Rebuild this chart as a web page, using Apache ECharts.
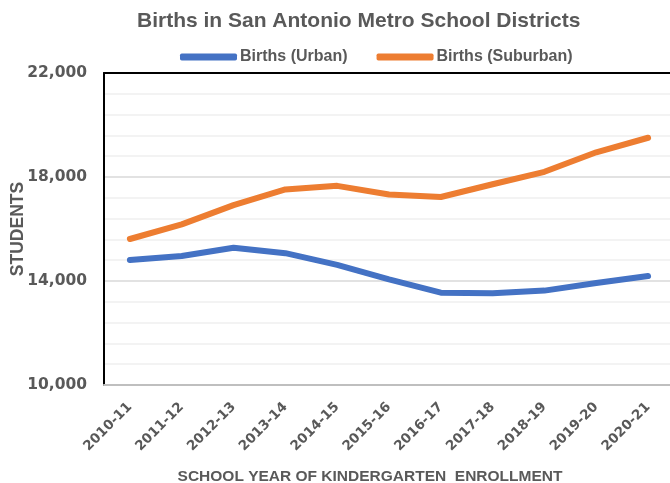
<!DOCTYPE html>
<html>
<head>
<meta charset="utf-8">
<script src="https://cdn.jsdelivr.net/npm/echarts@6/dist/echarts.min.js"></script>
<style>html,body{margin:0;padding:0;background:#fff}#c{width:670px;height:483px}</style>
</head>
<body>
<div id="c"></div>
<script>
const categories = ['2010-11','2011-12','2012-13','2013-14','2014-15','2015-16','2016-17','2017-18','2018-19','2019-20','2020-21'];
const urban = [14810, 14960, 15280, 15070, 14620, 14060, 13550, 13525, 13630, 13920, 14190];
const suburban = [15615, 16180, 16920, 17520, 17660, 17330, 17230, 17720, 18200, 18950, 19510];
const yTicks = [10000, 14000, 18000, 22000];

const SANS = '"Liberation Sans", Arial, sans-serif';
const DJ = '"DejaVu Sans", sans-serif';
const GREY = '#595959';
const chart = echarts.init(document.getElementById('c'), null, {renderer: 'canvas'});
chart.setOption({
  animation: false,
  title: {
    text: 'Births in San Antonio Metro School Districts',
    left: 132, top: 6,
    textStyle: {fontFamily: SANS, fontSize: 21, fontWeight: 'bold', color: GREY}
  },
  legend: {
    top: 44, left: 175,
    itemWidth: 57, itemHeight: 7, itemGap: 29,
    textStyle: {fontFamily: SANS, fontSize: 16, fontWeight: 'bold', color: GREY, padding: [0,0,0,-2]},
    data: [
      {name: 'Births (Urban)', icon: 'roundRect'},
      {name: 'Births (Suburban)', icon: 'roundRect'}
    ]
  },
  grid: {left: 104, top: 73, right: -4, bottom: 98, containLabel: false, outerBoundsMode: 'none'},
  xAxis: [{
    type: 'category',
    data: categories,
    boundaryGap: true,
    axisLine: {show: true, lineStyle: {color: '#bfbfbf', width: 2}},
    axisTick: {show: false},
    axisLabel: {rotate: 45, fontFamily: DJ, fontSize: 13.5, fontWeight: 'bold', color: GREY, margin: 20, interval: 0},
    name: 'SCHOOL YEAR OF KINDERGARTEN  ENROLLMENT',
    nameLocation: 'middle', nameGap: 84, nameMoveOverlap: false,
    nameTextStyle: {fontFamily: SANS, fontSize: 15.5, fontWeight: 'bold', color: GREY, padding: [0, 38, 0, 0]}
  }, {
    type: 'category', position: 'top', data: categories,
    axisLine: {show: true, lineStyle: {color: '#000', width: 2}},
    axisTick: {show: false}, axisLabel: {show: false}
  }],
  yAxis: {
    type: 'value',
    min: yTicks[0], max: yTicks[yTicks.length-1], interval: 4000,
    axisLine: {show: true, lineStyle: {color: '#000', width: 2}},
    axisTick: {show: false},
    axisLabel: {
      fontFamily: DJ, fontSize: 15.5, fontWeight: 'bold', color: GREY, margin: 17,
      formatter: v => v.toLocaleString('en-US')
    },
    splitLine: {show: true, lineStyle: {color: '#d9d9d9', width: 1.5}},
    minorTick: {show: false, splitNumber: 5},
    minorSplitLine: {show: true, lineStyle: {color: '#efefef', width: 1.5}},
    name: 'STUDENTS', nameLocation: 'middle', nameGap: 77, nameMoveOverlap: false,
    nameTextStyle: {fontFamily: SANS, fontSize: 17.5, fontWeight: 'bold', color: GREY}
  },
  series: [
    {name: 'Births (Urban)', type: 'line', data: urban, symbol: 'none',
     lineStyle: {color: '#4472C4', width: 6, cap: 'round', join: 'round'}, itemStyle: {color: '#4472C4'}},
    {name: 'Births (Suburban)', type: 'line', data: suburban, symbol: 'none',
     lineStyle: {color: '#ED7D31', width: 6, cap: 'round', join: 'round'}, itemStyle: {color: '#ED7D31'}}
  ]
});
</script>
</body>
</html>
